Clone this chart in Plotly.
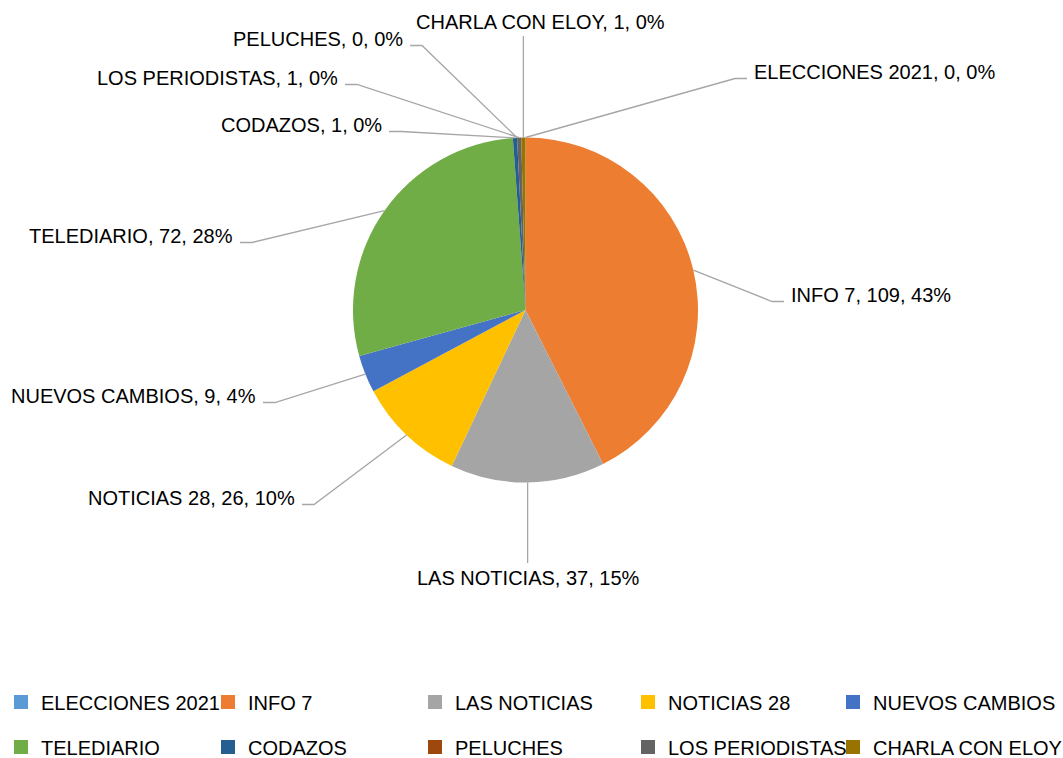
import math
import plotly.graph_objects as go

# ---------------- data ----------------
categories = ["ELECCIONES 2021", "INFO 7", "LAS NOTICIAS", "NOTICIAS 28", "NUEVOS CAMBIOS",
              "TELEDIARIO", "CODAZOS", "PELUCHES", "LOS PERIODISTAS", "CHARLA CON ELOY"]
values = [0, 109, 37, 26, 9, 72, 1, 0, 1, 1]
colors = ["#5B9BD5", "#ED7D31", "#A5A5A5", "#FFC000", "#4472C4",
          "#70AD47", "#255E91", "#9E480E", "#636363", "#997300"]

# ---------------- layout constants ----------------
W, H = 1063, 758
CX, CY, R = 525.5, 310.0, 172.5          # pie centre / radius in px
FONT = "Liberation Sans, Arial, sans-serif"
FS = 20
LINE_COLOR = "#A6A6A6"

# label placement: side, x, y (px).  L = text left of leader, R = right, T = above, B = below
label_layout = {
    "ELECCIONES 2021": ("R", 752, 72),
    "INFO 7": ("R", 789, 295),
    "LAS NOTICIAS": ("B", 528, 578),
    "NOTICIAS 28": ("L", 297, 498),
    "NUEVOS CAMBIOS": ("L", 258, 396),
    "TELEDIARIO": ("L", 235, 236),
    "CODAZOS": ("L", 384, 125),
    "PELUCHES": ("L", 405, 39),
    "LOS PERIODISTAS": ("L", 340, 78),
    "CHARLA CON ELOY": ("T", 540, 22),
}
legend_col_widths = [162, 162, 168, 160, 188]

# ---------------- percentages (largest remainder, like Excel) ----------------
total = sum(values)
raw = [v * 100.0 / total for v in values]
pct = [math.floor(r) for r in raw]
left = 100 - sum(pct)
for i in sorted(range(len(raw)), key=lambda i: raw[i] - pct[i], reverse=True)[:left]:
    pct[i] += 1

# ---------------- figure ----------------
fig = go.Figure()

fig.add_trace(go.Pie(
    labels=categories, values=values, sort=False, direction="clockwise", rotation=0,
    marker=dict(colors=colors, line=dict(width=0)),
    textinfo="none", showlegend=False,
    domain=dict(x=[(CX - R) / W, (CX + R) / W], y=[1 - (CY + R) / H, 1 - (CY - R) / H]),
))

# legend entries (two rows)
for i, (cat, col) in enumerate(zip(categories, colors)):
    fig.add_trace(go.Scatter(
        x=[None], y=[None], mode="markers", name=cat,
        marker=dict(symbol="square", size=14, color=col),
        legend="legend" if i < 5 else "legend2",
        legendwidth=legend_col_widths[i % 5],
        hoverinfo="skip",
    ))

# labels & leader lines
shapes = []
annotations = []
cum = 0.0
for cat, v, p in zip(categories, values, pct):
    mid = (cum + v / 2.0) / total * 2 * math.pi
    cum += v
    ex = CX + R * math.sin(mid)
    ey = CY - R * math.cos(mid)
    side, lx, ly = label_layout[cat]
    text = f"{cat}, {v}, {p}%"
    if side in ("L", "R"):
        sgn = -1 if side == "L" else 1
        endx = lx - sgn * 5
        elbx = endx - sgn * 12
        liney = ly + 6.5
        path = f"M {ex},{ey} L {elbx},{liney} L {endx},{liney}"
        xanchor = "right" if side == "L" else "left"
    elif side == "T":
        path = f"M {ex},{ey} L {ex},{ly + 14}"
        xanchor = "center"
    else:
        path = f"M {ex},{ey} L {ex},{ly - 15}"
        xanchor = "center"
    shapes.append(dict(type="path", path=path, xref="x", yref="y",
                       line=dict(color=LINE_COLOR, width=1.3), layer="above"))
    annotations.append(dict(x=lx, y=ly, xref="x", yref="y", text=text, showarrow=False,
                            xanchor=xanchor, yanchor="middle",
                            font=dict(family=FONT, size=FS, color="#000000")))

legend_common = dict(orientation="h", xanchor="left", yanchor="middle",
                     font=dict(family=FONT, size=FS, color="#000000"),
                     bgcolor="rgba(0,0,0,0)", borderwidth=0, itemclick=False)

fig.update_layout(
    width=W, height=H,
    margin=dict(l=0, r=0, t=0, b=0, autoexpand=False),
    paper_bgcolor="white", plot_bgcolor="white",
    xaxis=dict(range=[0, W], visible=False, fixedrange=True, domain=[0, 1]),
    yaxis=dict(range=[H, 0], visible=False, fixedrange=True, domain=[0, 1]),
    shapes=shapes, annotations=annotations,
    legend=dict(x=1 / W, y=1 - 702 / H, **legend_common),
    legend2=dict(x=1 / W, y=1 - 747 / H, **legend_common),
    font=dict(family=FONT, size=FS),
)

fig.write_html("out.html", config={"displayModeBar": False},
               post_script="document.body.style.margin='0';")
